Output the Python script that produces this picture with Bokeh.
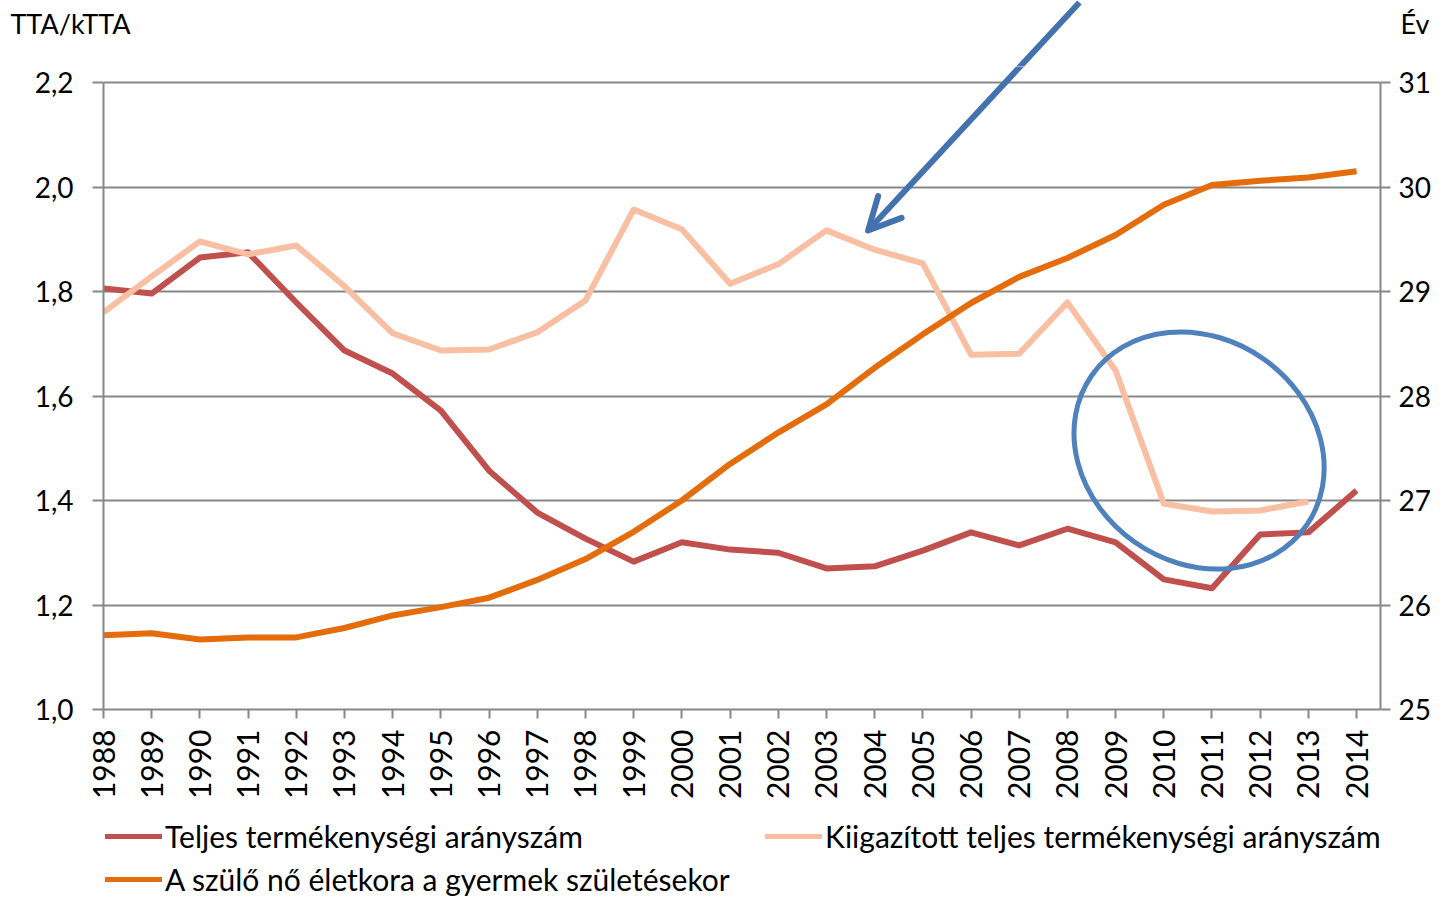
import math
from bokeh.plotting import figure
from bokeh.layouts import column
from bokeh.models import (Range1d, LinearAxis, FixedTicker, CustomJSTickFormatter,
                          Legend, LegendItem, Arrow, OpenHead)
from bokeh.embed import file_html
from bokeh.resources import INLINE

# ---------------- data ----------------
years = list(range(1988, 2015))
tta = [1.806, 1.796, 1.865, 1.875, 1.779, 1.687, 1.643, 1.572, 1.457, 1.377,
       1.327, 1.283, 1.320, 1.306, 1.300, 1.270, 1.274, 1.304, 1.339, 1.314,
       1.346, 1.320, 1.249, 1.232, 1.335, 1.339, 1.419]
ktta_years = list(range(1988, 2014))
ktta = [1.760, 1.829, 1.896, 1.871, 1.888, 1.810, 1.720, 1.687, 1.689, 1.722,
        1.783, 1.957, 1.919, 1.815, 1.852, 1.917, 1.880, 1.854, 1.679, 1.681,
        1.779, 1.649, 1.394, 1.379, 1.381, 1.398]
age = [25.71, 25.73, 25.67, 25.69, 25.69, 25.78, 25.90, 25.98, 26.07, 26.24,
       26.44, 26.70, 27.00, 27.35, 27.65, 27.92, 28.27, 28.59, 28.89, 29.14,
       29.32, 29.54, 29.83, 30.02, 30.06, 30.09, 30.15]

left_ticks = [1.0, 1.2, 1.4, 1.6, 1.8, 2.0, 2.2]
right_ticks = [25, 26, 27, 28, 29, 30, 31]

names = ["Teljes termékenységi arányszám",
         "Kiigazított teljes termékenységi arányszám",
         "A szülő nő életkora a gyermek születésekor"]
left_title = "TTA/kTTA"
right_title = "Év"

# ---------------- layout constants ----------------
FONT = "Lato"
GREY = "#878787"
C_TTA = "#C0504D"
C_KTTA = "#F8BFA2"
C_AGE = "#E46C0A"
C_BLUE = "#4F81BD"
C_ARROW = "#4472AE"

W = 1433
H = 899
TOP_H = 66
FRAME_L = 103
FRAME_R = 1384
FRAME_B = 709
MAIN_BOTTOM = 95
MAIN_H = (FRAME_B - TOP_H) + MAIN_BOTTOM
LEG_H = H - TOP_H - MAIN_H
PX_YEAR = (1360 - 103) / 26.0
PX_UNIT = (709 - 82) / 1.2
PX_AGE = (709 - 82) / 6.0

y_top = 1.0 + (FRAME_B - TOP_H) / PX_UNIT
age_top = 25 + (FRAME_B - TOP_H) / PX_AGE
x_lo = 1988.0
x_hi = 1988.0 + (FRAME_R - FRAME_L) / PX_YEAR

def px2x(px):
    return 1988.0 + (px - FRAME_L) / PX_YEAR

def py2y(py):
    return 1.0 + (FRAME_B - py) / PX_UNIT

ax0, ay0 = px2x(1082), py2y(2)
ax1, ay1 = px2x(870), py2y(230)

xr = Range1d(x_lo, x_hi)

# ---------------- top strip (axis titles + arrow shaft) ----------------
top = figure(width=W, height=TOP_H, output_backend="svg", toolbar_location=None,
             x_range=xr, y_range=Range1d(y_top, py2y(0)),
             min_border_left=FRAME_L, min_border_right=W - FRAME_R,
             min_border_top=0, min_border_bottom=0,
             x_axis_type=None, y_axis_type=None)
top.outline_line_color = None
top.grid.grid_line_color = None

def title_axis(txt, standoff):
    a = LinearAxis(ticker=FixedTicker(ticks=[py2y(23)]),
                   formatter=CustomJSTickFormatter(code="return %r;" % txt))
    a.axis_line_color = None
    a.major_tick_line_color = None
    a.minor_tick_line_color = None
    a.major_tick_out = 0
    a.major_tick_in = 0
    a.major_label_standoff = standoff
    a.major_label_text_font = FONT
    a.major_label_text_font_size = "27px"
    a.major_label_text_color = "black"
    a.major_label_orientation = "horizontal"
    return a

top.add_layout(title_axis(left_title, -27), "left")
top.add_layout(title_axis(right_title, 20), "right")
top.segment(x0=[ax0], y0=[ay0], x1=[ax1], y1=[ay1], line_color=C_ARROW,
            line_width=6, line_cap="butt")

# ---------------- main chart ----------------
p = figure(width=W, height=MAIN_H, output_backend="svg", toolbar_location=None,
           x_range=xr, y_range=Range1d(1.0, y_top),
           min_border_left=FRAME_L, min_border_top=0, min_border_right=W - FRAME_R,
           min_border_bottom=MAIN_BOTTOM)
p.outline_line_color = None
p.xgrid.grid_line_color = None
p.ygrid.grid_line_color = GREY
p.ygrid.grid_line_width = 2
p.ygrid.ticker = FixedTicker(ticks=left_ticks)

p.extra_y_ranges = {"age": Range1d(25, age_top)}

xa = p.xaxis[0]
xa.ticker = FixedTicker(ticks=years)
xa.major_label_orientation = math.pi / 2
xa.major_label_text_font = FONT
xa.major_label_text_font_size = "30px"
xa.major_label_text_color = "black"
xa.major_label_standoff = 11
xa.axis_line_color = GREY
xa.axis_line_width = 2
xa.major_tick_line_color = GREY
xa.major_tick_line_width = 2
xa.major_tick_out = 9
xa.major_tick_in = 0
xa.minor_tick_line_color = None

ya = p.yaxis[0]
ya.ticker = FixedTicker(ticks=left_ticks)
ya.bounds = (1.0, 2.2)
ya.formatter = CustomJSTickFormatter(code="return tick.toFixed(1).replace('.', ',');")
ya.major_label_text_font = FONT
ya.major_label_text_font_size = "28px"
ya.major_label_text_color = "black"
ya.major_label_standoff = 19
ya.axis_line_color = GREY
ya.axis_line_width = 2
ya.major_tick_line_color = GREY
ya.major_tick_line_width = 2
ya.major_tick_out = 11
ya.major_tick_in = 0
ya.minor_tick_line_color = None

ra = LinearAxis(y_range_name="age", ticker=FixedTicker(ticks=right_ticks), bounds=(25, 31))
ra.major_label_text_font = FONT
ra.major_label_text_font_size = "28px"
ra.major_label_text_color = "black"
ra.major_label_standoff = 8
ra.axis_line_color = GREY
ra.axis_line_width = 2
ra.major_tick_line_color = GREY
ra.major_tick_line_width = 2
ra.major_tick_out = 10
ra.major_tick_in = 0
ra.minor_tick_line_color = None
p.add_layout(ra, "right")

p.line(years, tta, line_color=C_TTA, line_width=6, line_join="round")
p.line(ktta_years, ktta, line_color=C_KTTA, line_width=6, line_join="round")
p.line(years, age, line_color=C_AGE, line_width=6, line_join="round",
       y_range_name="age")

p.ellipse(x=[px2x(1202)], y=[py2y(450)], width=262, height=224, width_units="screen",
          height_units="screen", angle=-0.61, fill_color=None,
          line_color=C_BLUE, line_width=5)
p.add_layout(Arrow(x_start=ax0, y_start=ay0, x_end=ax1, y_end=ay1,
                   line_color=C_ARROW, line_width=6, line_cap="butt",
                   end=OpenHead(size=32, line_color=C_ARROW, line_width=6,
                                line_cap="round", line_join="round")))

# ---------------- legend strip ----------------
lf = figure(width=W, height=LEG_H, output_backend="svg", toolbar_location=None,
            x_range=Range1d(FRAME_L, FRAME_R), y_range=Range1d(0, LEG_H),
            min_border_left=FRAME_L, min_border_right=W - FRAME_R,
            min_border_top=0, min_border_bottom=0,
            x_axis_type=None, y_axis_type=None)
lf.outline_line_color = None
lf.grid.grid_line_color = None
off = [-5000, -4990]
g1 = lf.line(x=off, y=[-50, -50], line_color=C_TTA, line_width=5, line_cap="round")
g2 = lf.line(x=off, y=[-50, -50], line_color=C_KTTA, line_width=5, line_cap="round")
g3 = lf.line(x=off, y=[-50, -50], line_color=C_AGE, line_width=5, line_cap="round")

def mklegend(items, loc):
    return Legend(items=items, location=loc, orientation="vertical",
                  label_text_font=FONT, label_text_font_size="30px",
                  label_text_color="black", glyph_width=57, glyph_height=20,
                  label_height=36, spacing=7, label_standoff=3, padding=0,
                  margin=0, border_line_color=None, background_fill_alpha=0)

lf.add_layout(mklegend([LegendItem(label=names[0], renderers=[g1]),
                        LegendItem(label=names[2], renderers=[g3])], (2, 2)), "center")
lf.add_layout(mklegend([LegendItem(label=names[1], renderers=[g2])], (662, 45)), "center")

layout = column(top, p, lf, spacing=0)
open("out.html", "w").write(file_html(layout, INLINE))
